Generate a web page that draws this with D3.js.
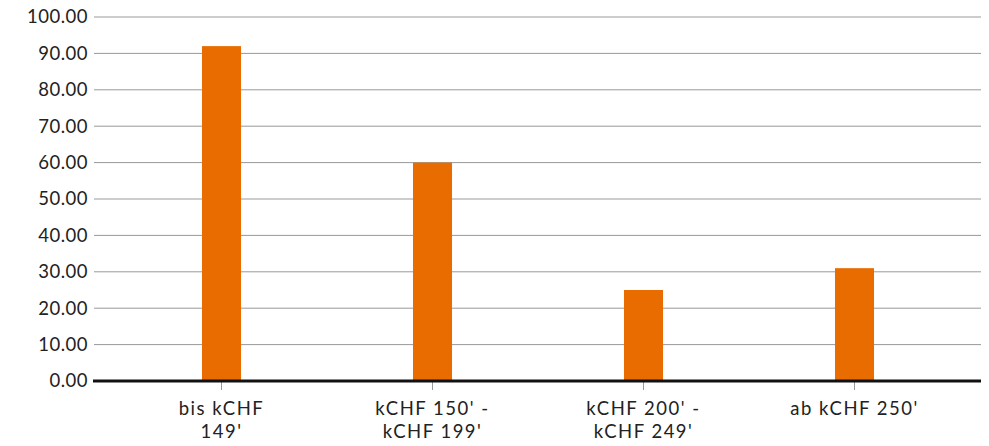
<!DOCTYPE html>
<html>
<head>
<meta charset="utf-8">
<script src="https://cdn.jsdelivr.net/npm/d3@7"></script>
<style>
  body { margin: 0; background: #fff; }
  svg text { font-family: Lato, "Open Sans", sans-serif; fill: #222; }
</style>
</head>
<body>
<script>
// data
var categories = ["bis kCHF 149'", "kCHF 150' - kCHF 199'", "kCHF 200' - kCHF 249'", "ab kCHF 250'"];
var labelLines = [["bis kCHF", "149'"], ["kCHF 150' -", "kCHF 199'"], ["kCHF 200' -", "kCHF 249'"], ["ab kCHF 250'"]];
var values = [92, 60, 25, 31];
var yTicks = [0, 10, 20, 30, 40, 50, 60, 70, 80, 90, 100];

var width = 989, height = 446;
var margin = {left: 94, right: 8, top: 17, bottom: 65};

var svg = d3.select("body").append("svg")
    .attr("width", width)
    .attr("height", height);

var y = d3.scaleLinear()
    .domain([0, 100])
    .range([height - margin.bottom, margin.top]);

var x = d3.scaleBand()
    .domain(categories)
    .range([116, 960])
    .paddingInner(0.815)
    .paddingOuter(0.4075);

// grid lines
svg.append("g")
    .selectAll("line")
    .data(yTicks.slice(1))
    .enter().append("line")
    .attr("x1", margin.left)
    .attr("x2", width - margin.right)
    .attr("y1", function (d) { return y(d); })
    .attr("y2", function (d) { return y(d); })
    .attr("stroke", "#999")
    .attr("stroke-width", 1);

// y labels
svg.append("g")
    .selectAll("text")
    .data(yTicks)
    .enter().append("text")
    .attr("x", 88)
    .attr("y", function (d) { return y(d); })
    .attr("dy", "0.35em")
    .attr("text-anchor", "end")
    .style("font-size", "18.5px")
    .style("letter-spacing", "0.5px")
    .text(function (d) { return d.toFixed(2); });

// bars
svg.append("g")
    .selectAll("rect")
    .data(values)
    .enter().append("rect")
    .attr("x", function (d, i) { return x(categories[i]); })
    .attr("width", x.bandwidth())
    .attr("y", function (d) { return y(d); })
    .attr("height", function (d) { return y(0) - y(d); })
    .attr("fill", "#e86c00");

// x tick marks
svg.append("g")
    .selectAll("line")
    .data(categories)
    .enter().append("line")
    .attr("x1", function (d) { return x(d) + x.bandwidth() / 2; })
    .attr("x2", function (d) { return x(d) + x.bandwidth() / 2; })
    .attr("y1", y(0))
    .attr("y2", y(0) + 9)
    .attr("stroke", "#999");

// baseline
svg.append("line")
    .attr("x1", 93)
    .attr("x2", width - margin.right)
    .attr("y1", y(0))
    .attr("y2", y(0))
    .attr("stroke", "#111")
    .attr("stroke-width", 3);

// x labels
var lab = svg.append("g")
    .selectAll("text")
    .data(categories)
    .enter().append("text")
    .attr("text-anchor", "middle")
    .style("font-size", "18.5px")
    .style("letter-spacing", "1.5px")
    .attr("x", function (d) { return x(d) + x.bandwidth() / 2; })
    .attr("y", y(0) + 34);

lab.each(function (d, i) {
    var t = d3.select(this);
    labelLines[i].forEach(function (line, j) {
        t.append("tspan")
            .attr("x", x(d) + x.bandwidth() / 2)
            .attr("dy", j === 0 ? 0 : 23)
            .text(line);
    });
});
</script>
</body>
</html>
